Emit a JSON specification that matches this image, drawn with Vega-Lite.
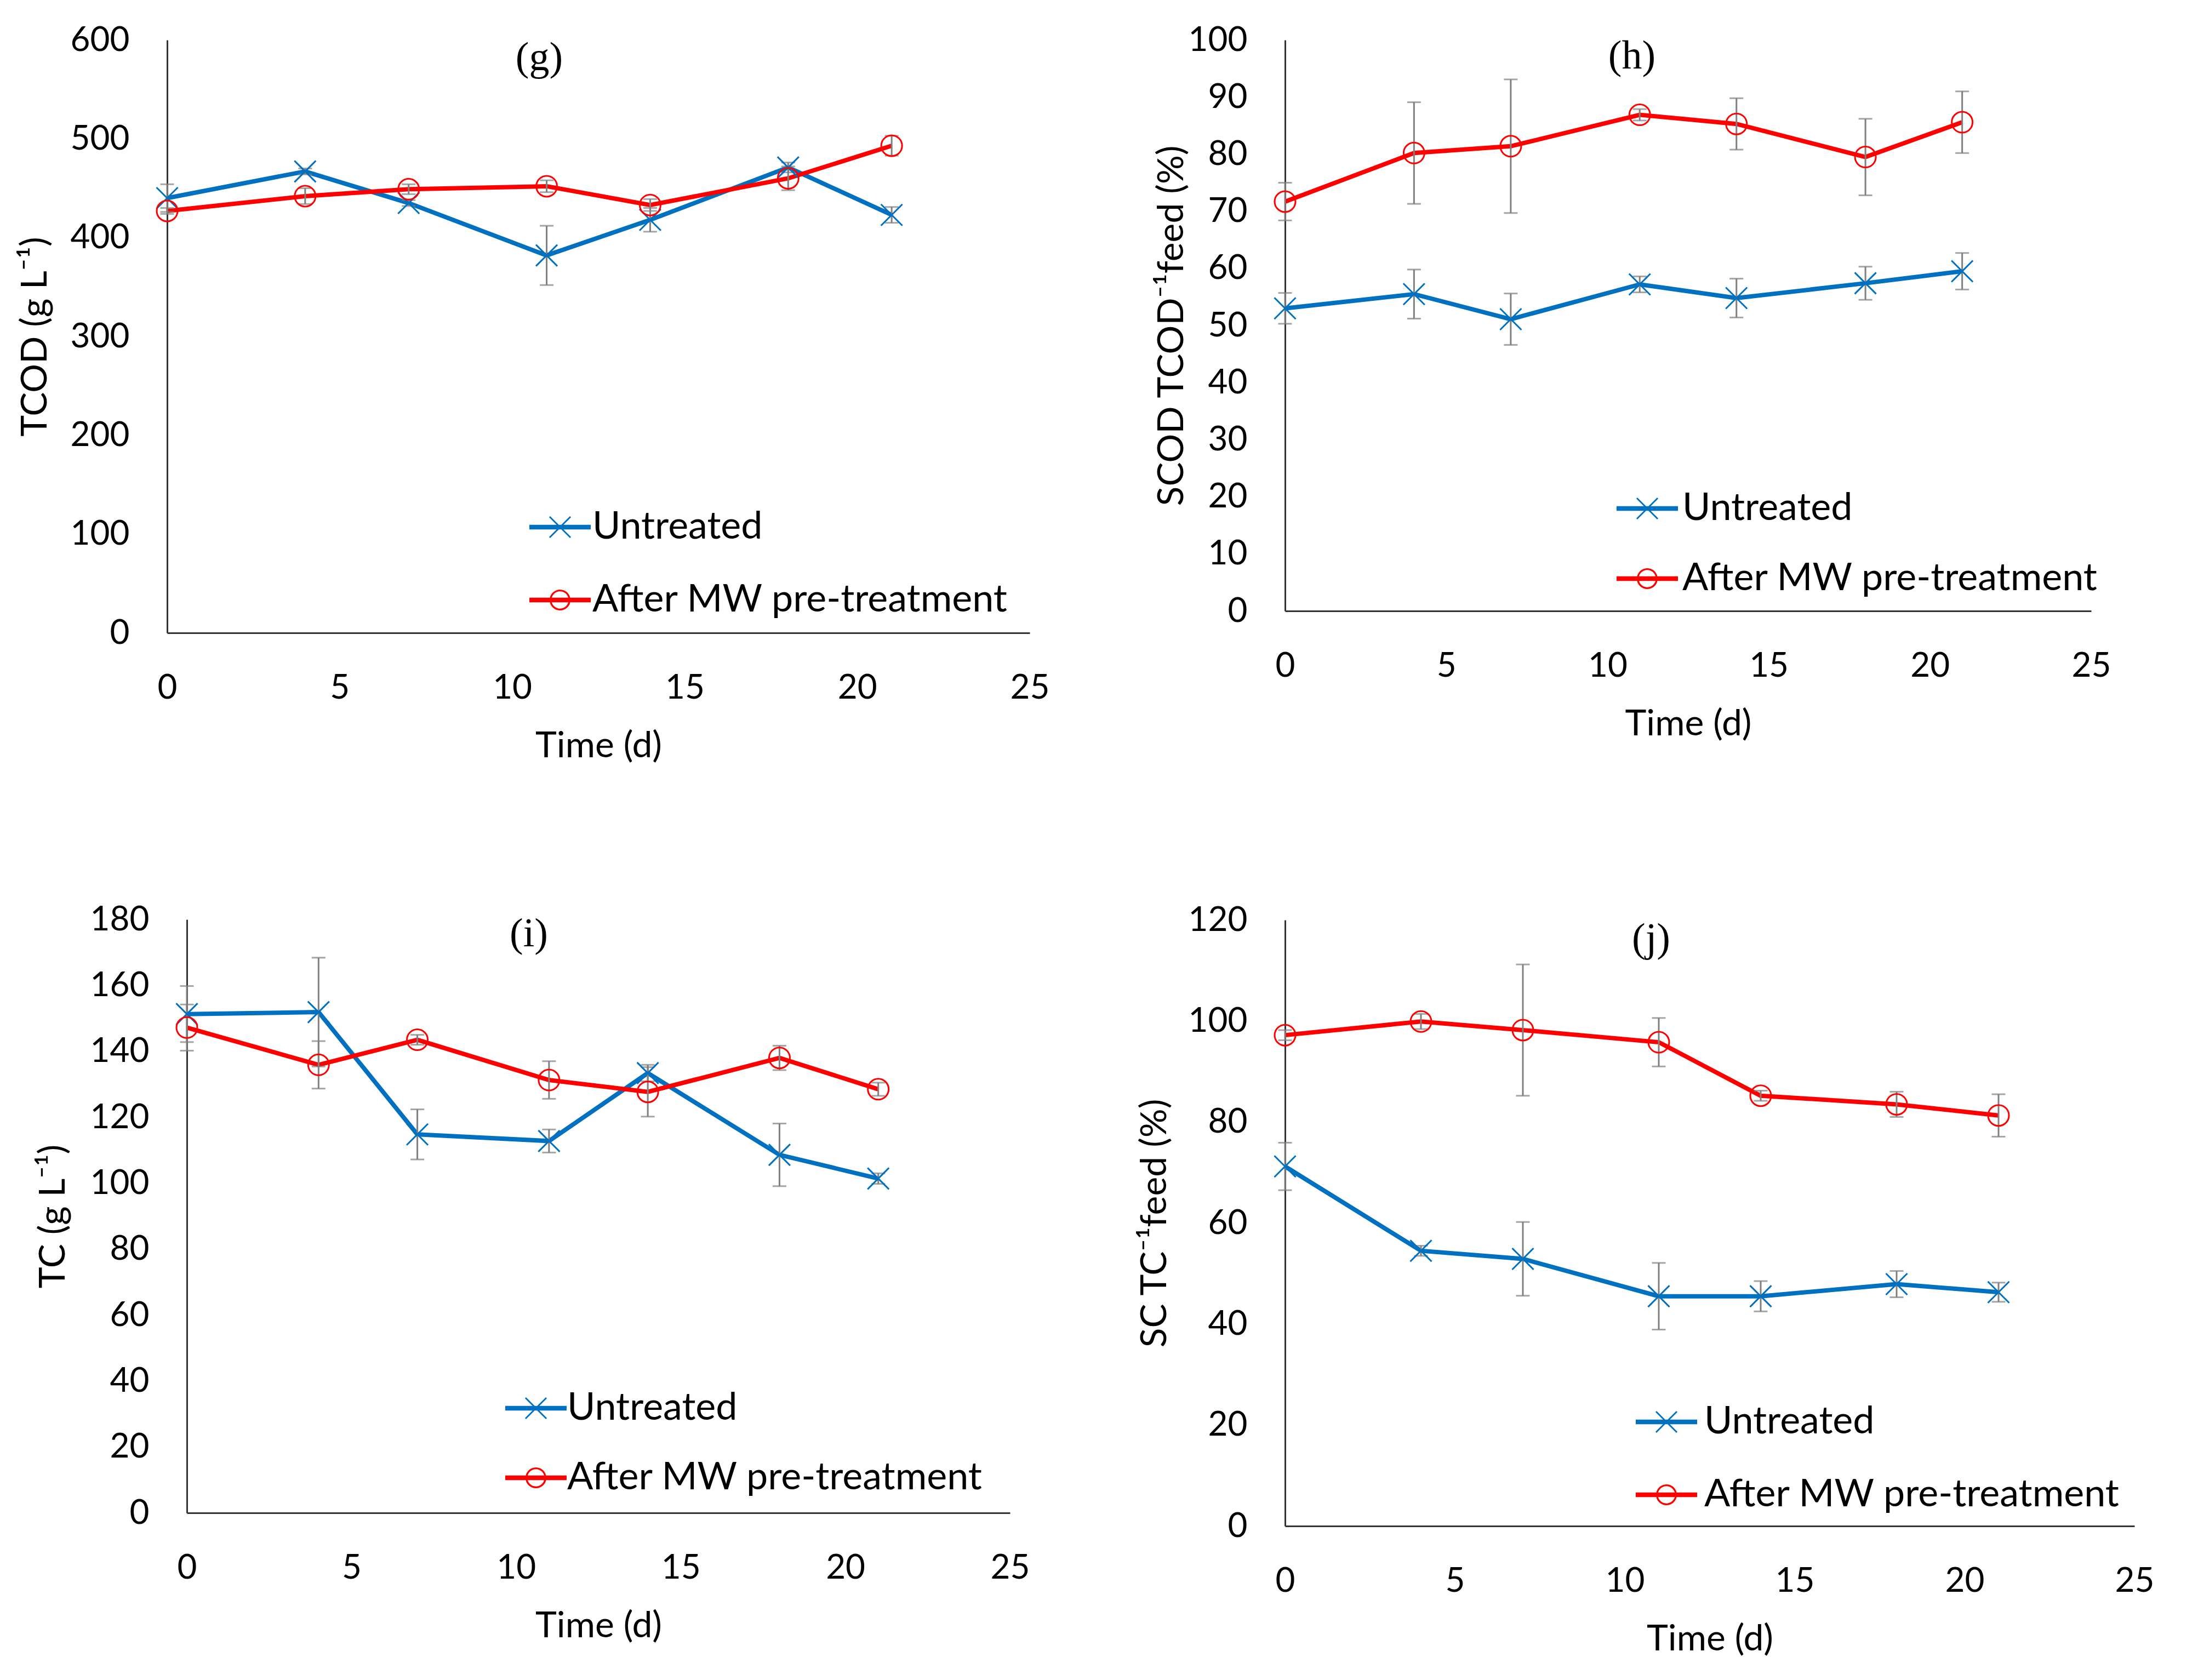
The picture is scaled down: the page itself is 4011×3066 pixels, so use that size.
{
  "$schema": "https://vega.github.io/schema/vega-lite/v6.json",
  "autosize": {"type": "pad"},
  "padding": {"left": 31, "top": 42, "right": 0, "bottom": 0},
  "background": "white",
  "config": {
    "font": "Lato",
    "view": {"stroke": null},
    "axis": {
      "grid": false, "ticks": false, "tickSize": 0,
      "domainColor": "#333333", "domainWidth": 3,
      "labelFont": "Lato", "labelFontSize": 62, "labelColor": "#000000",
      "labelFlush": false, "labelOverlap": false, "labelBound": false,
      "titleFont": "Lato", "titleFontSize": 66, "titleFontWeight": "normal", "titleColor": "#000000"
    },
    "axisX": {"labelPadding": 70, "titlePadding": 43},
    "axisY": {"labelPadding": 69},
    "legend": {
      "title": null, "orient": "none", "padding": 0, "symbolSize": 12544, "symbolStrokeWidth": 0, "symbolOpacity": 1,
      "labelFont": "Lato", "labelFontSize": 70, "labelColor": "#000000", "labelLimit": 0
    }
  },
  "datasets": {
    "g": [
      {"t": 0, "s": "Untreated", "v": 440, "e": 14},
      {"t": 4, "s": "Untreated", "v": 467, "e": 3},
      {"t": 7, "s": "Untreated", "v": 435, "e": 3},
      {"t": 11, "s": "Untreated", "v": 382, "e": 30},
      {"t": 14, "s": "Untreated", "v": 418, "e": 12},
      {"t": 18, "s": "Untreated", "v": 471, "e": 5},
      {"t": 21, "s": "Untreated", "v": 423, "e": 8},
      {"t": 0, "s": "After MW pre-treatment", "v": 427, "e": 3},
      {"t": 4, "s": "After MW pre-treatment", "v": 442, "e": 8},
      {"t": 7, "s": "After MW pre-treatment", "v": 449, "e": 5},
      {"t": 11, "s": "After MW pre-treatment", "v": 452, "e": 6},
      {"t": 14, "s": "After MW pre-treatment", "v": 433, "e": 6},
      {"t": 18, "s": "After MW pre-treatment", "v": 460, "e": 12},
      {"t": 21, "s": "After MW pre-treatment", "v": 493, "e": 10}
    ],
    "h": [
      {"t": 0, "s": "Untreated", "v": 53.0, "e": 2.7},
      {"t": 4, "s": "Untreated", "v": 55.5, "e": 4.3},
      {"t": 7, "s": "Untreated", "v": 51.1, "e": 4.5},
      {"t": 11, "s": "Untreated", "v": 57.2, "e": 1.4},
      {"t": 14, "s": "Untreated", "v": 54.8, "e": 3.4},
      {"t": 18, "s": "Untreated", "v": 57.4, "e": 2.9},
      {"t": 21, "s": "Untreated", "v": 59.5, "e": 3.2},
      {"t": 0, "s": "After MW pre-treatment", "v": 71.7, "e": 3.3},
      {"t": 4, "s": "After MW pre-treatment", "v": 80.2, "e": 8.9},
      {"t": 7, "s": "After MW pre-treatment", "v": 81.4, "e": 11.7},
      {"t": 11, "s": "After MW pre-treatment", "v": 86.9, "e": 1.0},
      {"t": 14, "s": "After MW pre-treatment", "v": 85.3, "e": 4.5},
      {"t": 18, "s": "After MW pre-treatment", "v": 79.5, "e": 6.7},
      {"t": 21, "s": "After MW pre-treatment", "v": 85.6, "e": 5.4}
    ],
    "i": [
      {"t": 0, "s": "Untreated", "v": 151.3, "e": 8.5},
      {"t": 4, "s": "Untreated", "v": 151.9, "e": 16.5},
      {"t": 7, "s": "Untreated", "v": 114.8, "e": 7.6},
      {"t": 11, "s": "Untreated", "v": 112.8, "e": 3.5},
      {"t": 14, "s": "Untreated", "v": 133.4, "e": 2.5},
      {"t": 18, "s": "Untreated", "v": 108.6, "e": 9.5},
      {"t": 21, "s": "Untreated", "v": 101.4, "e": 1.6},
      {"t": 0, "s": "After MW pre-treatment", "v": 147.2, "e": 7},
      {"t": 4, "s": "After MW pre-treatment", "v": 135.9, "e": 7.2},
      {"t": 7, "s": "After MW pre-treatment", "v": 143.5, "e": 1.5},
      {"t": 11, "s": "After MW pre-treatment", "v": 131.3, "e": 5.7},
      {"t": 14, "s": "After MW pre-treatment", "v": 127.7, "e": 7.5},
      {"t": 18, "s": "After MW pre-treatment", "v": 138.0, "e": 3.7},
      {"t": 21, "s": "After MW pre-treatment", "v": 128.5, "e": 2}
    ],
    "j": [
      {"t": 0, "s": "Untreated", "v": 71.2, "e": 4.7},
      {"t": 4, "s": "Untreated", "v": 54.5, "e": 1},
      {"t": 7, "s": "Untreated", "v": 52.9, "e": 7.3},
      {"t": 11, "s": "Untreated", "v": 45.5, "e": 6.6},
      {"t": 14, "s": "Untreated", "v": 45.5, "e": 3},
      {"t": 18, "s": "Untreated", "v": 47.9, "e": 2.6},
      {"t": 21, "s": "Untreated", "v": 46.3, "e": 1.9},
      {"t": 0, "s": "After MW pre-treatment", "v": 97.2, "e": 1},
      {"t": 4, "s": "After MW pre-treatment", "v": 99.9, "e": 1.5},
      {"t": 7, "s": "After MW pre-treatment", "v": 98.2, "e": 13},
      {"t": 11, "s": "After MW pre-treatment", "v": 95.8, "e": 4.8},
      {"t": 14, "s": "After MW pre-treatment", "v": 85.2, "e": 1},
      {"t": 18, "s": "After MW pre-treatment", "v": 83.5, "e": 2.5},
      {"t": 21, "s": "After MW pre-treatment", "v": 81.3, "e": 4.2}
    ]
  },
  "spacing": 159,
  "resolve": {
    "scale": {"x": "independent", "y": "independent", "color": "independent", "shape": "independent"},
    "axis": {"x": "independent", "y": "independent"},
    "legend": {"color": "independent", "shape": "independent"}
  },
  "hconcat": [
    {
      "spacing": 523,
      "bounds": "flush",
      "center": true,
      "resolve": {
        "scale": {"x": "independent", "y": "independent", "color": "independent", "shape": "independent"},
        "axis": {"x": "independent", "y": "independent"},
        "legend": {"color": "independent", "shape": "independent"}
      },
      "vconcat": [
        {
          "width": 1574, "height": 1082,
          "data": {"name": "g"},
          "title": {"text": "(g)", "anchor": "start", "frame": "group", "align": "center", "dx": 679, "offset": -160, "baseline": "alphabetic", "font": "Liberation Serif", "fontSize": 74, "fontWeight": "normal", "color": "#000000"},
          "encoding": {
            "x": {"field": "t", "type": "quantitative", "scale": {"domain": [0, 25], "nice": false}, "axis": {"values": [0, 5, 10, 15, 20, 25], "title": "Time (d)"}},
            "y": {"field": "v", "type": "quantitative", "scale": {"domain": [0, 600], "nice": false}, "axis": {"values": [0, 100, 200, 300, 400, 500, 600], "title": "TCOD (g L⁻¹)", "titlePadding": 30}}
          },
          "layer": [
            {"mark": {"type": "point", "filled": true, "opacity": 0},
             "encoding": {
               "color": {"field": "s", "type": "nominal", "scale": {"domain": ["Untreated", "After MW pre-treatment"], "range": ["#0070C0", "#FF0000"]}, "legend": {"legendX": 661, "legendY": 833, "rowPadding": 42, "labelOffset": 3}},
               "shape": {"field": "s", "type": "nominal", "scale": {"domain": ["Untreated", "After MW pre-treatment"], "range": ["M-1,-0.075H1V0.075H-1Z M-0.322,-0.358L0.358,0.322L0.322,0.358L-0.358,-0.322Z M0.322,-0.358L0.358,-0.322L-0.322,0.358L-0.358,0.322Z", "M-1,-0.075H1V0.075H-1Z M-0.34,0A0.34,0.34 0 1,1 0.34,0A0.34,0.34 0 1,1 -0.34,0Z M-0.28,0A0.28,0.28 0 1,0 0.28,0A0.28,0.28 0 1,0 -0.28,0Z"]}, "legend": {"legendX": 661, "legendY": 833, "rowPadding": 42, "labelOffset": 3}}}},
            {"transform": [{"filter": "datum.s === 'Untreated'"}], "mark": {"type": "line", "strokeWidth": 8, "color": "#0070C0"}},
            {"transform": [{"filter": "datum.s !== 'Untreated'"}], "mark": {"type": "line", "strokeWidth": 8, "color": "#FF0000"}},
            {"mark": {"type": "errorbar", "ticks": {"size": 25}, "color": "#7F7F7F", "thickness": 3},
             "encoding": {"yError": {"field": "e"}}},
            {"transform": [{"filter": "datum.s === 'Untreated'"}],
             "mark": {"type": "point", "shape": "M-1,-1L1,1M-1,1L1,-1", "filled": false, "color": "#0070C0", "strokeWidth": 3, "size": 1521, "opacity": 1}},
            {"transform": [{"filter": "datum.s !== 'Untreated'"}],
             "mark": {"type": "point", "shape": "circle", "filled": false, "color": "#FF0000", "strokeWidth": 3, "size": 1444, "opacity": 1}}
          ]
        },
        {
          "width": 1502, "height": 1083,
          "data": {"name": "i"},
          "title": {"text": "(i)", "anchor": "start", "frame": "group", "align": "center", "dx": 624, "offset": -154, "baseline": "alphabetic", "font": "Liberation Serif", "fontSize": 74, "fontWeight": "normal", "color": "#000000"},
          "encoding": {
            "x": {"field": "t", "type": "quantitative", "scale": {"domain": [0, 25], "nice": false}, "axis": {"values": [0, 5, 10, 15, 20, 25], "title": "Time (d)"}},
            "y": {"field": "v", "type": "quantitative", "scale": {"domain": [0, 180], "nice": false}, "axis": {"values": [0, 20, 40, 60, 80, 100, 120, 140, 160, 180], "title": "TC (g L⁻¹)", "titlePadding": 33}}
          },
          "layer": [
            {"mark": {"type": "point", "filled": true, "opacity": 0},
             "encoding": {
               "color": {"field": "s", "type": "nominal", "scale": {"domain": ["Untreated", "After MW pre-treatment"], "range": ["#0070C0", "#FF0000"]}, "legend": {"legendX": 581, "legendY": 836, "rowPadding": 36, "labelOffset": 1}},
               "shape": {"field": "s", "type": "nominal", "scale": {"domain": ["Untreated", "After MW pre-treatment"], "range": ["M-1,-0.075H1V0.075H-1Z M-0.322,-0.358L0.358,0.322L0.322,0.358L-0.358,-0.322Z M0.322,-0.358L0.358,-0.322L-0.322,0.358L-0.358,0.322Z", "M-1,-0.075H1V0.075H-1Z M-0.34,0A0.34,0.34 0 1,1 0.34,0A0.34,0.34 0 1,1 -0.34,0Z M-0.28,0A0.28,0.28 0 1,0 0.28,0A0.28,0.28 0 1,0 -0.28,0Z"]}, "legend": {"legendX": 581, "legendY": 836, "rowPadding": 36, "labelOffset": 1}}}},
            {"transform": [{"filter": "datum.s === 'Untreated'"}], "mark": {"type": "line", "strokeWidth": 8, "color": "#0070C0"}},
            {"transform": [{"filter": "datum.s !== 'Untreated'"}], "mark": {"type": "line", "strokeWidth": 8, "color": "#FF0000"}},
            {"mark": {"type": "errorbar", "ticks": {"size": 25}, "color": "#7F7F7F", "thickness": 3},
             "encoding": {"yError": {"field": "e"}}},
            {"transform": [{"filter": "datum.s === 'Untreated'"}],
             "mark": {"type": "point", "shape": "M-1,-1L1,1M-1,1L1,-1", "filled": false, "color": "#0070C0", "strokeWidth": 3, "size": 1521, "opacity": 1}},
            {"transform": [{"filter": "datum.s !== 'Untreated'"}],
             "mark": {"type": "point", "shape": "circle", "filled": false, "color": "#FF0000", "strokeWidth": 3, "size": 1444, "opacity": 1}}
          ]
        }
      ]
    },
    {
      "spacing": 564,
      "bounds": "flush",
      "resolve": {
        "scale": {"x": "independent", "y": "independent", "color": "independent", "shape": "independent"},
        "axis": {"x": "independent", "y": "independent"},
        "legend": {"color": "independent", "shape": "independent"}
      },
      "vconcat": [
        {
          "width": 1471, "height": 1042,
          "data": {"name": "h"},
          "title": {"text": "(h)", "anchor": "start", "frame": "group", "align": "center", "dx": 633, "offset": -157, "baseline": "alphabetic", "font": "Liberation Serif", "fontSize": 74, "fontWeight": "normal", "color": "#000000"},
          "encoding": {
            "x": {"field": "t", "type": "quantitative", "scale": {"domain": [0, 25], "nice": false}, "axis": {"values": [0, 5, 10, 15, 20, 25], "title": "Time (d)"}},
            "y": {"field": "v", "type": "quantitative", "scale": {"domain": [0, 100], "nice": false}, "axis": {"values": [0, 10, 20, 30, 40, 50, 60, 70, 80, 90, 100], "title": "SCOD TCOD⁻¹feed (%)", "titlePadding": -4}}
          },
          "layer": [
            {"mark": {"type": "point", "filled": true, "opacity": 0},
             "encoding": {
               "color": {"field": "s", "type": "nominal", "scale": {"domain": ["Untreated", "After MW pre-treatment"], "range": ["#0070C0", "#FF0000"]}, "legend": {"legendX": 605, "legendY": 799, "rowPadding": 37, "labelOffset": 8}},
               "shape": {"field": "s", "type": "nominal", "scale": {"domain": ["Untreated", "After MW pre-treatment"], "range": ["M-1,-0.075H1V0.075H-1Z M-0.322,-0.358L0.358,0.322L0.322,0.358L-0.358,-0.322Z M0.322,-0.358L0.358,-0.322L-0.322,0.358L-0.358,0.322Z", "M-1,-0.075H1V0.075H-1Z M-0.34,0A0.34,0.34 0 1,1 0.34,0A0.34,0.34 0 1,1 -0.34,0Z M-0.28,0A0.28,0.28 0 1,0 0.28,0A0.28,0.28 0 1,0 -0.28,0Z"]}, "legend": {"legendX": 605, "legendY": 799, "rowPadding": 37, "labelOffset": 8}}}},
            {"transform": [{"filter": "datum.s === 'Untreated'"}], "mark": {"type": "line", "strokeWidth": 8, "color": "#0070C0"}},
            {"transform": [{"filter": "datum.s !== 'Untreated'"}], "mark": {"type": "line", "strokeWidth": 8, "color": "#FF0000"}},
            {"mark": {"type": "errorbar", "ticks": {"size": 25}, "color": "#7F7F7F", "thickness": 3},
             "encoding": {"yError": {"field": "e"}}},
            {"transform": [{"filter": "datum.s === 'Untreated'"}],
             "mark": {"type": "point", "shape": "M-1,-1L1,1M-1,1L1,-1", "filled": false, "color": "#0070C0", "strokeWidth": 3, "size": 1521, "opacity": 1}},
            {"transform": [{"filter": "datum.s !== 'Untreated'"}],
             "mark": {"type": "point", "shape": "circle", "filled": false, "color": "#FF0000", "strokeWidth": 3, "size": 1444, "opacity": 1}}
          ]
        },
        {
          "width": 1550, "height": 1106,
          "data": {"name": "j"},
          "title": {"text": "(j)", "anchor": "start", "frame": "group", "align": "center", "dx": 668, "offset": -162, "baseline": "alphabetic", "font": "Liberation Serif", "fontSize": 74, "fontWeight": "normal", "color": "#000000"},
          "encoding": {
            "x": {"field": "t", "type": "quantitative", "scale": {"domain": [0, 25], "nice": false}, "axis": {"values": [0, 5, 10, 15, 20, 25], "title": "Time (d)"}},
            "y": {"field": "v", "type": "quantitative", "scale": {"domain": [0, 120], "nice": false}, "axis": {"values": [0, 20, 40, 60, 80, 100, 120], "title": "SC TC⁻¹feed (%)", "titlePadding": 27}}
          },
          "layer": [
            {"mark": {"type": "point", "filled": true, "opacity": 0},
             "encoding": {
               "color": {"field": "s", "type": "nominal", "scale": {"domain": ["Untreated", "After MW pre-treatment"], "range": ["#0070C0", "#FF0000"]}, "legend": {"legendX": 640, "legendY": 860, "rowPadding": 42, "labelOffset": 13}},
               "shape": {"field": "s", "type": "nominal", "scale": {"domain": ["Untreated", "After MW pre-treatment"], "range": ["M-1,-0.075H1V0.075H-1Z M-0.322,-0.358L0.358,0.322L0.322,0.358L-0.358,-0.322Z M0.322,-0.358L0.358,-0.322L-0.322,0.358L-0.358,0.322Z", "M-1,-0.075H1V0.075H-1Z M-0.34,0A0.34,0.34 0 1,1 0.34,0A0.34,0.34 0 1,1 -0.34,0Z M-0.28,0A0.28,0.28 0 1,0 0.28,0A0.28,0.28 0 1,0 -0.28,0Z"]}, "legend": {"legendX": 640, "legendY": 860, "rowPadding": 42, "labelOffset": 13}}}},
            {"transform": [{"filter": "datum.s === 'Untreated'"}], "mark": {"type": "line", "strokeWidth": 8, "color": "#0070C0"}},
            {"transform": [{"filter": "datum.s !== 'Untreated'"}], "mark": {"type": "line", "strokeWidth": 8, "color": "#FF0000"}},
            {"mark": {"type": "errorbar", "ticks": {"size": 25}, "color": "#7F7F7F", "thickness": 3},
             "encoding": {"yError": {"field": "e"}}},
            {"transform": [{"filter": "datum.s === 'Untreated'"}],
             "mark": {"type": "point", "shape": "M-1,-1L1,1M-1,1L1,-1", "filled": false, "color": "#0070C0", "strokeWidth": 3, "size": 1521, "opacity": 1}},
            {"transform": [{"filter": "datum.s !== 'Untreated'"}],
             "mark": {"type": "point", "shape": "circle", "filled": false, "color": "#FF0000", "strokeWidth": 3, "size": 1444, "opacity": 1}}
          ]
        }
      ]
    }
  ]
}
